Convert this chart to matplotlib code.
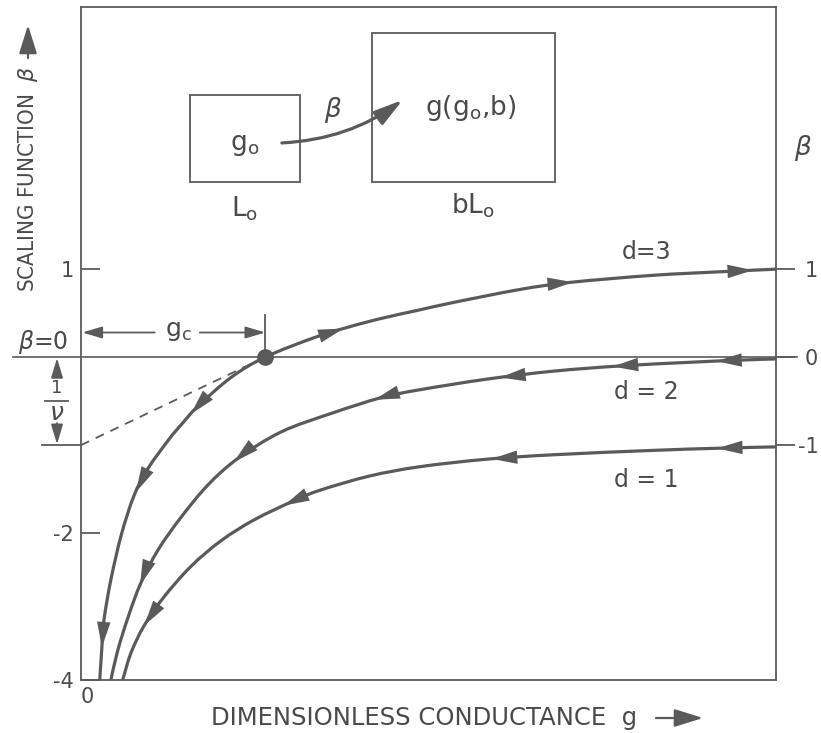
import numpy as np
import matplotlib
matplotlib.use('Agg')
import matplotlib.pyplot as plt
from matplotlib.patches import Rectangle, PathPatch
from matplotlib.path import Path

W, H = 821, 733
LINE = '#5a5a5a'
TXT = '#4a4a4a'

plt.rcParams['font.family'] = ['DejaVu Sans']
plt.rcParams['mathtext.fontset'] = 'dejavusans'

# scaling curves beta(g) (axis floor stands for -4)
g_d3 = [0.27, 0.30, 0.33, 0.43, 0.58, 0.76, 0.96, 1.27, 1.44, 1.68, 2.16, 2.65,
        3.35, 3.84, 4.32, 4.89, 5.35, 6.32, 7.04, 8.23, 9.19, 10.0]
beta_d3 = [-3.67, -3.30, -2.99, -2.53, -2.02, -1.58, -1.27, -0.93, -0.77, -0.56, -0.23, 0.0,
           0.22, 0.34, 0.44, 0.54, 0.62, 0.77, 0.85, 0.93, 0.97, 1.0]

g_d2 = [0.43, 0.53, 0.68, 0.86, 1.11, 1.44, 1.83, 2.26, 2.88, 3.60, 4.32,
        4.88, 5.84, 6.79, 7.76, 8.72, 9.44, 10.0]
beta_d2 = [-3.67, -3.33, -2.95, -2.57, -2.19, -1.82, -1.45, -1.15, -0.85, -0.64, -0.46,
           -0.37, -0.25, -0.16, -0.10, -0.06, -0.035, -0.02]

g_d1 = [0.60, 0.72, 0.91, 1.19, 1.58, 2.01, 2.49, 3.07, 3.45, 4.16, 4.88, 5.84,
        6.79, 8.23, 9.19, 10.0]
beta_d1 = [-3.67, -3.36, -3.05, -2.73, -2.38, -2.09, -1.85, -1.63, -1.51, -1.35, -1.245, -1.16,
           -1.11, -1.06, -1.035, -1.02]

# where the flow arrows sit (g of the tip)
arrows_d3_up = [3.78, 7.08, 9.67]
arrows_d3_down = [1.58, 0.79, 0.30]
arrows_d2 = [9.14, 7.65, 6.03, 4.22, 2.20, 0.85]
arrows_d1 = [9.15, 5.91, 2.92, 0.91]

g_c = 2.65
inv_nu = 1.0
beta_floor = -3.67

left_ticks = [1, -2, beta_floor]
left_labels = ['1', '-2', '-4']
right_ticks = [1, 0, -1]
right_labels = ['1', '0', '-1']


def px(x, y):
    return x / W, 1 - y / H


def smooth_path(g, b):
    # Catmull-Rom through the read points, drawn as cubic Bezier pieces
    p = np.column_stack([g, b])
    p = np.vstack([p[0], p, p[-1]])
    verts = [p[1]]
    codes = [Path.MOVETO]
    for i in range(1, len(p) - 2):
        c1 = p[i] + (p[i + 1] - p[i - 1]) / 6
        c2 = p[i + 1] - (p[i + 2] - p[i]) / 6
        verts += [c1, c2, p[i + 1]]
        codes += [Path.CURVE4] * 3
    return Path(verts, codes)


def head(ax, g, beta, tip, sign):
    y_tip = np.interp(tip, g, beta)
    tail = tip - sign * 0.01
    y_tail = np.interp(tail, g, beta)
    ax.annotate('', xy=(tip, y_tip), xytext=(tail, y_tail),
                arrowprops=dict(arrowstyle='-|>,head_length=0.8,head_width=0.21',
                                color=LINE, lw=0, shrinkA=0, shrinkB=0,
                                mutation_scale=23))


fig = plt.figure(figsize=(W / 100, H / 100), dpi=100)
ax = fig.add_axes([81 / W, 1 - 680 / H, 695 / W, 673 / H])
ax.set_xlim(0, 10)
ax.set_ylim(beta_floor, 3.98)
for s in ax.spines.values():
    s.set_color(LINE)
    s.set_linewidth(1.3)

ax.set_yticks(left_ticks)
ax.set_yticklabels(left_labels)
ax.tick_params(axis='y', direction='in', length=13.5, width=1.3, color=LINE,
               labelcolor=TXT, labelsize=15, pad=5)
ax.set_xticks([0])
ax.set_xticklabels(['0'], ha='left')
ax.tick_params(axis='x', length=0, labelcolor=TXT, labelsize=15, pad=5)

ax2 = ax.twinx()
ax2.set_ylim(beta_floor, 3.98)
for s in ax2.spines.values():
    s.set_visible(False)
ax2.set_yticks(right_ticks)
ax2.set_yticklabels(right_labels)
ax2.tick_params(axis='y', direction='out', length=13.5, width=1.3, color=LINE,
                labelcolor=TXT, labelsize=15, pad=17)
for t in ax2.get_yticklabels():
    t.set_horizontalalignment('right')

# beta = 0 line, across the whole frame
ax.plot([-0.98, 10.3], [0, 0], color=LINE, lw=1.2, clip_on=False)
ax.text(-0.55, 0.17, r'$\beta$=0', color=TXT, fontsize=17, ha='center', va='center')

# curves
for g, b in [(g_d3, beta_d3), (g_d2, beta_d2), (g_d1, beta_d1)]:
    ax.add_patch(PathPatch(smooth_path(g, b), fill=False, ec=LINE, lw=2.3))
for t in arrows_d3_up:
    head(ax, g_d3, beta_d3, t, 1)
for t in arrows_d3_down:
    head(ax, g_d3, beta_d3, t, -1)
for t in arrows_d2:
    head(ax, g_d2, beta_d2, t, -1)
for t in arrows_d1:
    head(ax, g_d1, beta_d1, t, -1)

ax.text(8.14, 1.19, 'd=3', color=TXT, fontsize=17, ha='center', va='center')
ax.text(8.14, -0.40, 'd = 2', color=TXT, fontsize=17, ha='center', va='center')
ax.text(8.14, -1.40, 'd = 1', color=TXT, fontsize=17, ha='center', va='center')

# fixed point, tangent and g_c
ax.plot([0, g_c], [-inv_nu, 0], color=LINE, lw=1.3, ls=(0, (5, 4)))
ax.plot(g_c, 0, 'o', ms=11, color=LINE, zorder=5)
ax.plot([g_c, g_c], [0.08, 0.48], color=LINE, lw=1.3)
hp = dict(arrowstyle='-|>,head_length=0.6,head_width=0.18', color=LINE, lw=1.3,
          shrinkA=0, shrinkB=0, mutation_scale=20)
ax.annotate('', xy=(0.02, 0.28), xytext=(1.06, 0.28), arrowprops=hp)
ax.annotate('', xy=(g_c, 0.28), xytext=(1.71, 0.28), arrowprops=hp)
ax.text(1.40, 0.30, r'g$_{\rm c}$', color=TXT, fontsize=18, ha='center', va='center')

# 1/nu marker left of the axis
ax.plot([-0.56, 0], [-inv_nu, -inv_nu], color=LINE, lw=1.3, clip_on=False)
ax.annotate('', xy=(-0.345, -0.01), xytext=(-0.345, -0.19), arrowprops=hp, annotation_clip=False)
ax.annotate('', xy=(-0.345, -0.99 * inv_nu), xytext=(-0.345, -0.75), arrowprops=hp, annotation_clip=False)
ax.text(-0.345, -0.35, '1', color=TXT, fontsize=13, ha='center', va='center')
ax.plot([-0.52, -0.19], [-0.5, -0.5], color=LINE, lw=1.3, clip_on=False)
ax.text(-0.345, -0.64, r'$\nu$', color=TXT, fontsize=18, ha='center', va='center')

# inset: block L_o scaled to bL_o
ax.add_patch(Rectangle((0.157, 0.740), 0.158, 0.129, transform=ax.transAxes,
                       fill=False, ec=LINE, lw=1.3))
ax.add_patch(Rectangle((0.419, 0.740), 0.263, 0.221, transform=ax.transAxes,
                       fill=False, ec=LINE, lw=1.3))
ax.text(0.236, 0.795, r'g$_{\rm o}$', transform=ax.transAxes, color=TXT, fontsize=19, ha='center', va='center')
ax.text(0.236, 0.700, r'L$_{\rm o}$', transform=ax.transAxes, color=TXT, fontsize=19, ha='center', va='center')
ax.text(0.560, 0.850, r'g(g$_{\rm o}$,b)', transform=ax.transAxes, color=TXT, fontsize=19, ha='center', va='center')
ax.text(0.564, 0.705, r'bL$_{\rm o}$', transform=ax.transAxes, color=TXT, fontsize=19, ha='center', va='center')
ax.text(0.363, 0.847, r'$\beta$', transform=ax.transAxes, color=TXT, fontsize=19, ha='center', va='center')
ax.annotate('', xy=(0.463, 0.862), xytext=(0.289, 0.798), xycoords='axes fraction',
            arrowprops=dict(arrowstyle='-|>,head_length=0.8,head_width=0.22', color=LINE,
                            lw=2.3, shrinkA=0, shrinkB=0, mutation_scale=22,
                            connectionstyle='arc3,rad=0.15'))

# axis titles
fig.text(*px(28, 179), r'SCALING FUNCTION  $\beta$', rotation=90, color=TXT,
         fontsize=16, fontstretch='condensed', ha='center', va='center')
fig.text(*px(424, 718), 'DIMENSIONLESS CONDUCTANCE  g', color=TXT,
         fontsize=17.5, ha='center', va='center')
fig.text(*px(803, 148), r'$\beta$', color=TXT, fontsize=19, ha='center', va='center')
ap = dict(arrowstyle='-|>,head_length=0.8,head_width=0.25', color=LINE, lw=1.6,
          shrinkA=0, shrinkB=0, mutation_scale=22)
ax.annotate('', xy=px(28, 25), xytext=px(28, 58), xycoords='figure fraction', arrowprops=ap)
ax.annotate('', xy=px(703, 718), xytext=px(656, 718), xycoords='figure fraction', arrowprops=ap)

fig.savefig('out.png', dpi=100, facecolor='white')
